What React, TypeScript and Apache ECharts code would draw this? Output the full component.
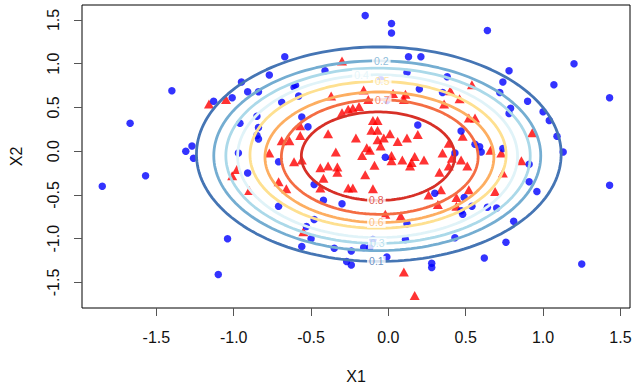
import React, { useEffect, useRef } from "react";
import * as echarts from "echarts";

const FONT = "'Liberation Sans', Arial, Helvetica, sans-serif";

const tickValues = [-1.5, -1.0, -0.5, 0.0, 0.5, 1.0, 1.5];

// Class 1 (blue circles): [X1, X2]
const bluePoints: number[][] = [
  [-0.15, 1.55], [0.02, 1.46], [0.02, 1.35], [0.64, 1.38], [-0.67, 1.08], [0.13, 1.08],
  [0.21, 1.08], [1.2, 1.0], [-0.41, 0.92], [0.78, 0.92], [0.12, 0.9], [-0.77, 0.87],
  [0.38, 0.85], [-0.05, 0.82], [-0.95, 0.79], [0.74, 0.79], [1.07, 0.76], [-0.6, 0.75],
  [-0.61, 0.73], [0.2, 0.71], [-1.4, 0.69], [-0.91, 0.68], [-0.84, 0.68], [0.35, 0.67],
  [0.72, 0.67], [-0.58, 0.63], [-1.01, 0.61], [1.43, 0.61], [-1.13, 0.57], [-0.01, 0.58],
  [0.9, 0.57], [-0.69, 0.56], [0.79, 0.49], [0.78, 0.43], [1.0, 0.45], [-0.85, 0.4],
  [-0.56, 0.39], [1.04, 0.35], [-0.96, 0.32], [-1.67, 0.32], [0.19, 0.3], [-0.52, 0.28],
  [-0.84, 0.27], [0.47, 0.23], [-0.85, 0.18], [-0.84, 0.14], [1.09, 0.17], [0.56, 0.08],
  [0.59, 0.05], [0.6, -0.01], [-1.27, 0.06], [-1.31, 0.0], [0.74, 0.03], [1.13, -0.01],
  [0.43, -0.02], [-0.97, -0.02], [-0.02, -0.07], [-1.26, -0.08], [-0.71, -0.12], [0.91, -0.15],
  [-1.57, -0.28], [-0.91, -0.25], [-0.48, -0.38], [-1.85, -0.4], [0.91, -0.35], [1.43, -0.39],
  [0.96, -0.46], [0.3, -0.48], [-0.42, -0.56], [-0.3, -0.6], [0.49, -0.53], [-0.71, -0.63],
  [0.54, -0.63], [0.64, -0.64], [0.7, -0.65], [0.47, -0.68], [0.48, -0.72], [0.81, -0.8],
  [-0.48, -0.78], [-0.53, -0.86], [0.12, -0.83], [-0.5, -1.0], [-1.04, -1.0], [-0.1, -1.01],
  [0.11, -1.01], [0.43, -0.99], [0.76, -1.04], [-0.56, -1.09], [-0.35, -1.11], [-0.16, -1.1],
  [-0.12, -1.1], [-0.24, -1.14], [-0.01, -1.21], [0.62, -1.22], [-0.27, -1.26], [-0.24, -1.3],
  [0.28, -1.28], [0.28, -1.33], [1.25, -1.29], [-1.1, -1.41],
];

// Class 2 (red triangles): [X1, X2]
const redPoints: number[][] = [
  [-1.16, 0.54], [-1.05, 0.59], [-0.3, 1.03], [0.54, 0.76], [0.4, 0.69], [-0.16, 0.7],
  [0.03, 0.66], [0.11, 0.65], [-0.37, 0.63], [-0.13, 0.59], [0.1, 0.59], [0.46, 0.6],
  [0.36, 0.54], [-0.19, 0.51], [-0.23, 0.49], [-0.26, 0.48], [-0.3, 0.44], [0.52, 0.38],
  [0.56, 0.38], [-0.1, 0.35], [-0.07, 0.35], [-0.11, 0.24], [-0.07, 0.24], [-0.39, 0.2],
  [-0.21, 0.15], [0.01, 0.2], [0.19, 0.19], [0.93, 0.21], [-0.03, 0.15], [-0.07, 0.13],
  [-0.05, 0.06], [0.12, 0.15], [0.06, 0.11], [0.48, 0.17], [0.39, 0.09], [-0.14, 0.04],
  [-0.12, 0.01], [-0.34, -0.01], [0.66, 0.01], [0.73, -0.02], [0.35, -0.02], [-0.17, -0.05],
  [0.02, -0.05], [0.02, -0.11], [0.17, -0.06], [0.09, -0.1], [0.15, -0.13], [0.23, -0.1],
  [0.14, -0.17], [0.41, -0.08], [0.47, -0.1], [0.51, -0.17], [0.86, -0.11], [-0.39, -0.17],
  [-0.33, -0.18], [-0.33, -0.24], [-0.09, -0.16], [0.39, -0.17], [0.33, -0.24], [-0.15, -0.27],
  [0.74, -0.25], [-0.42, -0.31], [-0.26, -0.42], [-0.23, -0.42], [-0.1, -0.43], [0.34, -0.44],
  [0.52, -0.44], [0.69, -0.46], [0.26, -0.5], [0.44, -0.53], [0.32, -0.61], [0.44, -0.63],
  [-0.02, -0.72], [0.08, -0.74], [0.1, -1.38], [0.17, -1.65], [-0.57, 0.29], [-0.57, 0.18],
  [-0.64, 0.12], [-0.69, 0.12], [-0.77, -0.02], [-0.61, -0.12], [-0.56, -0.1], [-0.98, -0.21],
  [-1.01, -0.28], [-0.71, -0.35], [-0.66, -0.43], [-0.44, -0.19], [-0.44, -0.42], [-0.9, -0.45],
  [-0.55, -0.92],
];

// Contour levels with elliptical extents
const contourLevels = [0.1, 0.2, 0.3, 0.4, 0.5, 0.6, 0.7, 0.8];
const contourCenterX = [-0.062, -0.072, -0.067, -0.07, -0.067, -0.058, -0.056, -0.067];
const contourCenterY = [-0.034, -0.052, -0.052, -0.057, -0.041, -0.069, -0.066, -0.057];
const contourRadiusX = [1.179, 1.057, 0.984, 0.905, 0.828, 0.74, 0.636, 0.496];
const contourRadiusY = [1.226, 1.085, 1.002, 0.931, 0.839, 0.746, 0.655, 0.506];
const contourColors = ["#4575b4", "#74add1", "#abd9e9", "#e0f3f8", "#fee090", "#fdae61", "#f46d43", "#d73027"];
const contourLabelX = [-0.078, -0.046, -0.072, -0.174, -0.04, -0.078, -0.04, -0.078];
const contourLabelSide = [-1, 1, -1, 1, 1, -1, 1, -1];

export default function App() {
  const ref = useRef<HTMLDivElement>(null);
  useEffect(() => {
    if (!ref.current) return;
    const chart = echarts.init(ref.current, null, { renderer: "svg" });
    const fmt = (v: number) => Number(v).toFixed(1);

    const contourSeries = contourLevels.map((lv, i) => {
      const pts: number[][] = [];
      const n = 180;
      for (let k = 0; k <= n; k++) {
        const t = (2 * Math.PI * k) / n;
        pts.push([
          contourCenterX[i] + contourRadiusX[i] * Math.cos(t),
          contourCenterY[i] + contourRadiusY[i] * Math.sin(t),
        ]);
      }
      return {
        type: "line",
        name: "level " + lv,
        data: pts,
        showSymbol: false,
        symbol: "none",
        silent: true,
        z: 3,
        lineStyle: { color: contourColors[i], width: 2.8 },
      };
    });

    const labelData = contourLevels.map((lv, i) => {
      const dx = (contourLabelX[i] - contourCenterX[i]) / contourRadiusX[i];
      const y = contourCenterY[i] + contourLabelSide[i] * contourRadiusY[i] * Math.sqrt(Math.max(0, 1 - dx * dx));
      return { name: lv.toFixed(1), value: [contourLabelX[i], y], label: { color: contourColors[i] } };
    });

    const axisCommon = {
      type: "value",
      splitLine: { show: false },
      axisLine: { show: false, onZero: false },
      axisTick: { show: true, length: 8, customValues: tickValues, lineStyle: { color: "#555", width: 1 } },
      nameTextStyle: { fontSize: 16, color: "#111", fontFamily: FONT },
    };

    chart.setOption({
      animation: false,
      backgroundColor: "#fff",
      grid: { left: 77, right: 9, top: 5, bottom: 80, show: true, borderColor: "#000", borderWidth: 1 },
      xAxis: {
        ...axisCommon,
        min: -1.981,
        max: 1.562,
        axisLabel: { customValues: tickValues, formatter: fmt, fontSize: 16, color: "#111", margin: 21, fontFamily: FONT },
        name: "X1",
        nameLocation: "middle",
        nameGap: 60,
      },
      yAxis: {
        ...axisCommon,
        min: -1.792,
        max: 1.671,
        axisLabel: { customValues: tickValues, formatter: fmt, fontSize: 16, color: "#111", margin: 21, rotate: 90, fontFamily: FONT },
        name: "X2",
        nameLocation: "middle",
        nameGap: 58,
      },
      series: [
        {
          type: "scatter",
          name: "class 2",
          data: redPoints,
          symbol: "triangle",
          symbolSize: [10, 9],
          itemStyle: { color: "#ff0000" },
          z: 1,
        },
        {
          type: "scatter",
          name: "class 1",
          data: bluePoints,
          symbol: "circle",
          symbolSize: 7.5,
          itemStyle: { color: "#0000ff" },
          z: 2,
        },
        ...contourSeries,
        {
          type: "scatter",
          name: "labels",
          data: labelData,
          symbol: "rect",
          symbolSize: 1,
          itemStyle: { color: "rgba(0,0,0,0)" },
          silent: true,
          z: 5,
          label: {
            show: true,
            position: "inside",
            formatter: (p: any) => p.name,
            fontSize: 10.5,
            fontFamily: FONT,
            backgroundColor: "#fff",
            padding: [0, 2],
          },
        },
      ],
    });
    return () => chart.dispose();
  }, []);
  return <div ref={ref} style={{ position: "fixed", left: 0, top: 0, width: 639, height: 389 }} />;
}
